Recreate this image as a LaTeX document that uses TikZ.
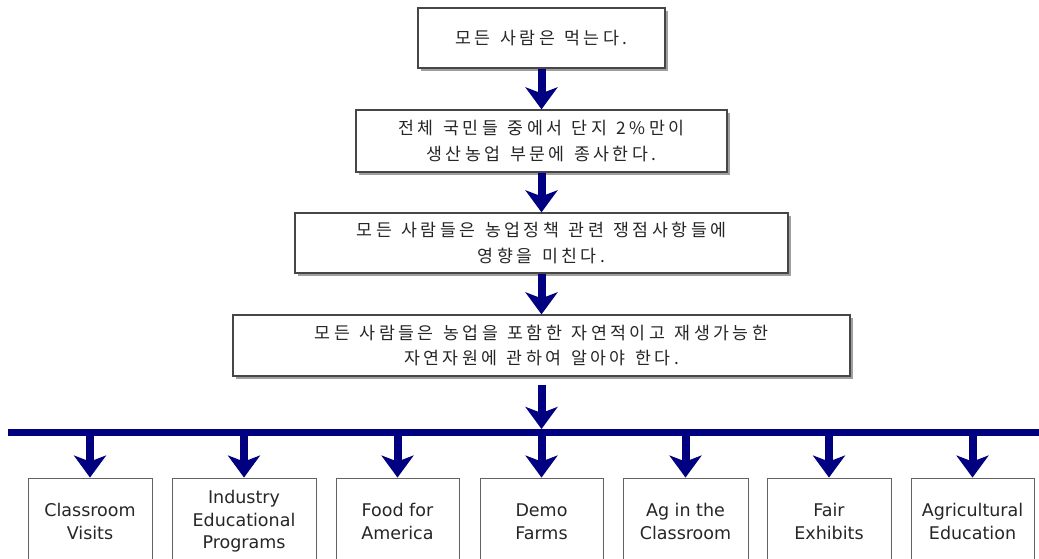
\documentclass[tikz,border=0pt]{standalone}
\usepackage{fontspec}
\setmainfont{DejaVu Sans}
\newfontfamily\krfont[LetterSpace=20,WordSpace=1.3]{Noto Sans CJK KR}
\usetikzlibrary{arrows.meta,shadows}
\definecolor{arrownavy}{RGB}{0,0,128}
\definecolor{boxgray}{RGB}{70,70,70}

\begin{document}
\begin{tikzpicture}[x=1pt,y=-1pt,
    stmt/.style={draw=boxgray,line width=1.3pt,fill=white,align=center,inner sep=0pt,
      font=\krfont\fontsize{17.3}{25.5}\selectfont,text=black!85,
      drop shadow={shadow xshift=3pt,shadow yshift=-3pt,fill=gray!75,opacity=1}},
    prog/.style={draw=boxgray!85,line width=0.9pt,fill=white,align=center,inner sep=0pt,
      font=\fontsize{17.5}{22.5}\selectfont,text=black!85,minimum height=87pt},
    arr/.style={arrownavy,line width=8pt,-{Stealth[length=22pt,width=32pt,inset=6pt]}}]
\useasboundingbox (0,0) rectangle (1039,558);

% Statements
\node[stmt,minimum width=247pt,minimum height=60pt] (eat) at (541.5,38) {모든 사람은 먹는다.};
\node[stmt,minimum width=371pt,minimum height=62pt] (farm) at (541.5,141) {전체 국민들 중에서 단지 2\%만이\\생산농업 부문에 종사한다.};
\node[stmt,minimum width=493pt,minimum height=60pt] (policy) at (541.5,243) {모든 사람들은 농업정책 관련 쟁점사항들에\\영향을 미친다.};
\node[stmt,minimum width=617pt,minimum height=61pt] (learn) at (541.5,345.5) {모든 사람들은 농업을 포함한 자연적이고 재생가능한\\자연자원에 관하여 알아야 한다.};

% Bar
\coordinate (barL) at (8,432.5);
\coordinate (barR) at (1045,432.5);
\coordinate (barM) at (541.5,429);
\draw[arrownavy,line width=7pt] (barL) -- (barR);

% Programs
\node[prog,minimum width=124pt] (visits) at (90,521.5) {Classroom\\Visits};
\node[prog,minimum width=144pt] (industry) at (244,521.5) {Industry\\Educational\\Programs};
\node[prog,minimum width=123pt] (food) at (397.5,521.5) {Food for\\America};
\node[prog,minimum width=123pt] (demo) at (541.5,521.5) {Demo\\Farms};
\node[prog,minimum width=125pt] (agclass) at (685.5,521.5) {Ag in the\\Classroom};
\node[prog,minimum width=124pt] (fair) at (829,521.5) {Fair\\Exhibits};
\node[prog,minimum width=123pt] (agedu) at (972.5,521.5) {Agricultural\\Education};

% Connections
\draw[arr] (eat) -- (farm);
\draw[arr] (farm) -- (policy);
\draw[arr] (policy) -- (learn);
\draw[arr] ([yshift=-8pt]learn.south) -- (barM);
\foreach \p in {visits,industry,food,demo,agclass,fair,agedu}
  \draw[arr] (\p.north |- barL) -- (\p.north);
\end{tikzpicture}
\end{document}
